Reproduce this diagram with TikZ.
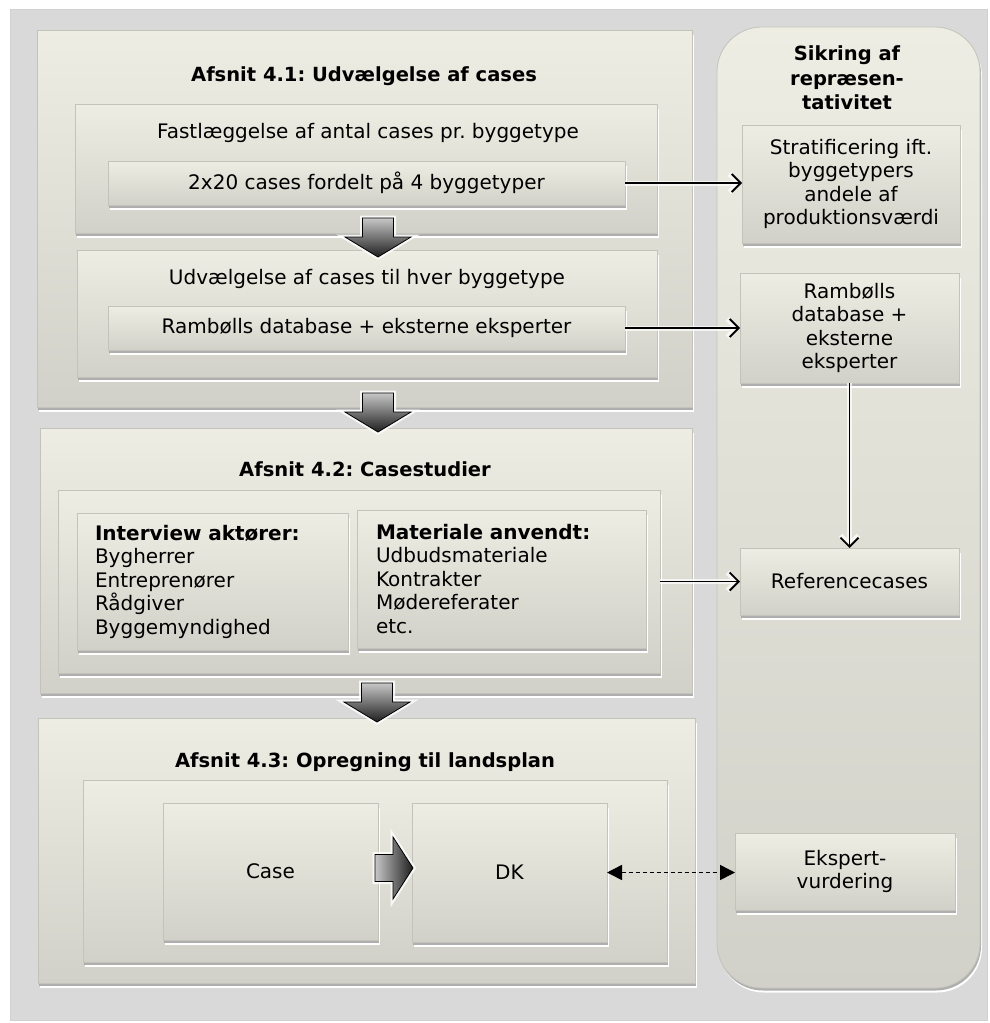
\documentclass[tikz,border=0pt]{standalone}
\usepackage{fontspec}
\setmainfont{DejaVu Sans}
\usepackage{xcolor}
\usepackage{tikz}
\usetikzlibrary{arrows.meta, positioning, shadows}
\frenchspacing

\definecolor{panel}{HTML}{D9D9D9}
\definecolor{boxtop}{HTML}{EEEDE3}
\definecolor{boxbot}{HTML}{D2D1C9}
\definecolor{boxline}{HTML}{C3C3BB}

\begin{document}
\begin{tikzpicture}[
        x=1pt, y=-1pt,
        font=\fontsize{20}{23.5}\selectfont,
        box/.style={rectangle, draw=boxline, line width=0.8pt,
                    top color=boxtop, bottom color=boxbot,
                    inner sep=0pt, outer sep=0pt, align=center, text=black,
                    rounded corners=#1,
                    drop shadow={shadow xshift=2pt, shadow yshift=-4.5pt, fill=white, opacity=1},
                    drop shadow={shadow xshift=1pt, shadow yshift=-2.5pt, fill=black!35, opacity=0.9}},
        box/.default=0pt,
        listbox/.style={box, anchor=north west, align=left, inner xsep=18pt},
        heading/.style={font=\fontsize{19.5}{24.5}\selectfont\bfseries, align=center},
        arrow/.style={-{Straight Barb[length=9pt, width=18pt]}, line width=1.9pt,
                      preaction={draw=white, line width=5pt, opacity=0.7}},
        dasharrow/.style={{Triangle[length=15pt, width=15pt]}-{Triangle[length=15pt, width=15pt]},
                          line width=1.5pt, dash pattern=on 4.5pt off 2.5pt},
        downarrow/.style={draw=black, line width=0.8pt, line join=miter, top color=black!22, bottom color=black!88,
                          preaction={draw=white, line width=5pt, opacity=0.8}},
        rightarrow/.style={draw=black, line width=0.8pt, line join=miter, left color=black!22, right color=black!88,
                           preaction={draw=white, line width=5pt, opacity=0.8}}
    ]
        \useasboundingbox (0,0) rectangle (989,1023);
        \fill[panel, draw=black!18] (10,9) rectangle (987,1020);

        % Sections
        \node[box, minimum width=655pt, minimum height=377pt] (sec1) at (364.5,218.5) {};
        \node[box, minimum width=652pt, minimum height=265pt] (sec2) at (366,560.5) {};
        \node[box, minimum width=657pt, minimum height=265pt] (sec3) at (366.5,850.5) {};
        \node[box=45pt, minimum width=263pt, minimum height=961pt] (side) at (848.5,507.5) {};

        % Afsnit 4.1
        \node[heading] (title1) at (364,76) {Afsnit 4.1: Udvælgelse af cases};
        \node[box, minimum width=582pt, minimum height=129pt] (antal) at (366,168.5) {};
        \node (antaltxt) at (368,133) {Fastlæggelse af antal cases pr. byggetype};
        \node[box, minimum width=517pt, minimum height=44pt] (fordel) at (366.5,183) {2x20 cases fordelt på 4 byggetyper};
        \node[box, minimum width=580pt, minimum height=127pt] (udv) at (367,313.5) {};
        \node (udvtxt) at (367,279) {Udvælgelse af cases til hver byggetype};
        \node[box, minimum width=517pt, minimum height=44pt] (rambdb) at (366.5,328) {Rambølls database + eksterne eksperter};

        % Afsnit 4.2
        \node[heading] (title2) at (365,469) {Afsnit 4.2: Casestudier};
        \node[box, minimum width=602pt, minimum height=183pt] (cases) at (359,581.5) {};
        \node[listbox, text width=235pt, minimum height=137pt] (aktor) at (77,513)
            {\textbf{Interview aktører:}\\Bygherrer\\Entreprenører\\Rådgiver\\Byggemyndighed};
        \node[listbox, text width=251pt, minimum height=138pt, inner xsep=19pt] (materiale) at (357,510)
            {\textbf{Materiale anvendt:}\\Udbudsmateriale\\Kontrakter\\Mødereferater\\etc.};

        % Afsnit 4.3
        \node[heading] (title3) at (365,762) {Afsnit 4.3: Opregning til landsplan};
        \node[box, minimum width=584pt, minimum height=182pt] (opreg) at (375,871) {};
        \node[box, minimum width=215pt, minimum height=137pt] (case) at (270.5,871.5) {Case};
        \node[box, minimum width=195pt, minimum height=139pt] (dk) at (509.5,872.5) {DK};

        % Sikring af repraesentativitet
        \node[heading] (title4) at (847,78) {Sikring af\\repræsen-\\tativitet};
        \node[box, minimum width=218pt, minimum height=118pt] (strat) at (851,184)
            {Stratificering ift.\\byggetypers\\andele af\\produktionsværdi};
        \node[box, minimum width=219pt, minimum height=110pt] (ramb) at (849.5,328)
            {Rambølls\\database +\\eksterne\\eksperter};
        \node[box, minimum width=219pt, minimum height=67pt] (ref) at (849.5,581.5) {Referencecases};
        \node[box, minimum width=220pt, minimum height=77pt] (ekspert) at (845,871.5) {Ekspert-\\vurdering};

        % Block arrows
        \foreach \ax/\ay in {378/218, 378/393, 377/683}
            \draw[downarrow] (\ax,\ay) ++(-15.5,0) -- ++(31,0) -- ++(0,19) -- ++(17.5,0)
                -- ++(-33,20) -- ++(-33,-20) -- ++(17.5,0) -- cycle;
        \coordinate (casetip) at (375,868);
        \draw[rightarrow] (casetip) ++(0,-13.5) -- ++(18,0) -- ++(0,-17.5) -- ++(20,31)
            -- ++(-20,31) -- ++(0,-17.5) -- ++(-18,0) -- cycle;

        % Arrows
        \draw[arrow] (fordel.east) -- (fordel.east -| strat.west);
        \draw[arrow] (rambdb.east) -- (rambdb.east -| ramb.west);
        \draw[arrow] (ramb.south) -- (ref.north);
        \draw[arrow] (cases.east) -- (cases.east -| ref.west);
        \draw[dasharrow] (dk.east) -- (dk.east -| ekspert.west);
    \end{tikzpicture}
\end{document}
